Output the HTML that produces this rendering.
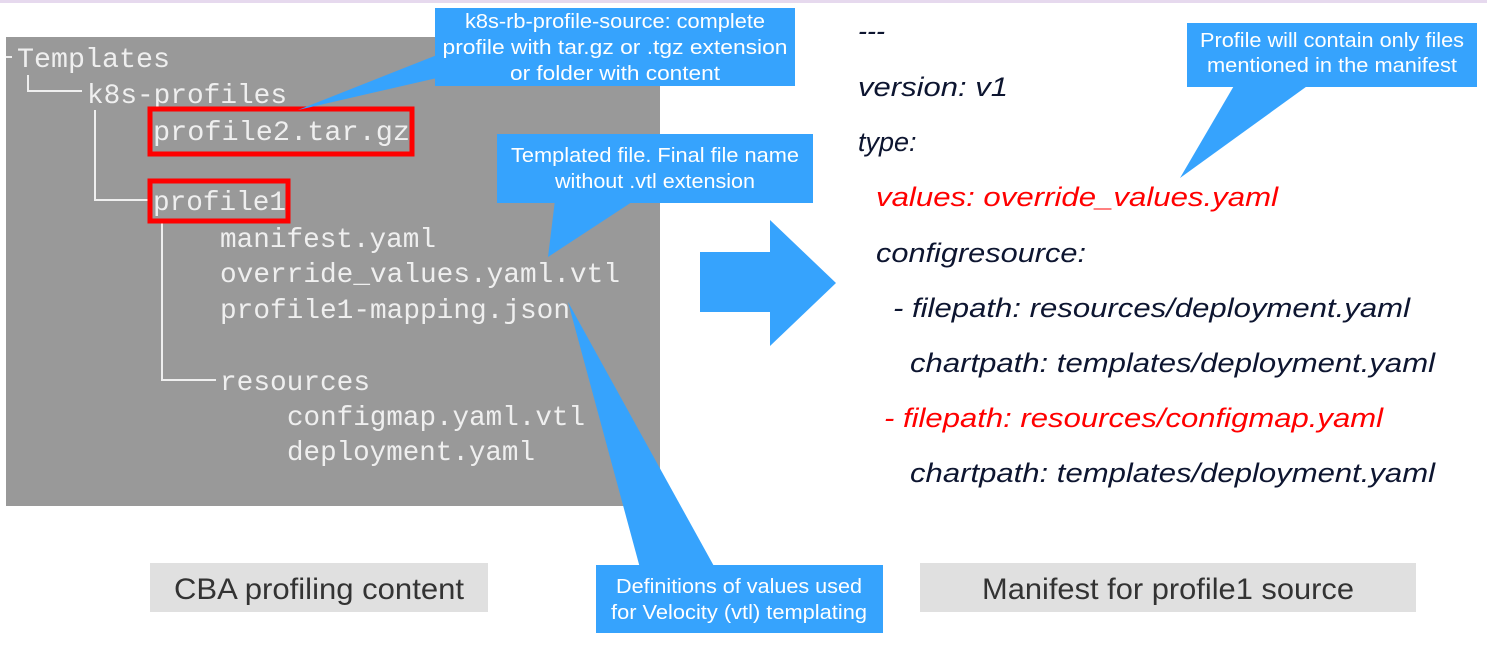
<!DOCTYPE html>
<html><head><meta charset="utf-8"><style>
html,body{margin:0;padding:0;background:#fff;}
svg{display:block;}
.m{font-family:"Liberation Mono",monospace;font-size:28px;fill:#efefef;}
.r{font-family:"Liberation Sans",sans-serif;font-style:italic;font-size:27px;fill:#0d1530;}
.red{fill:#f00;}
.c{font-family:"Liberation Sans",sans-serif;font-size:20px;fill:#fff;text-anchor:middle;}
.l{font-family:"Liberation Sans",sans-serif;font-size:30px;fill:#333;text-anchor:middle;}
</style></head><body>
<svg width="1487" height="647" xmlns="http://www.w3.org/2000/svg">
<rect x="0" y="0" width="1487" height="3" fill="#e6d9ee"/>
<rect x="6" y="37" width="654" height="469" fill="#999"/>
<g stroke="#efefef" stroke-width="2" fill="none">
<path d="M6 57 H12"/>
<path d="M28 75 V91 H82"/>
<path d="M95 110 V200 H150"/>
<path d="M162 220 V380 H216"/>
</g>
<g lengthAdjust="spacingAndGlyphs">
<text class="m" x="17" y="67" textLength="153" lengthAdjust="spacingAndGlyphs">Templates</text>
<text class="m" x="87" y="103" textLength="200" lengthAdjust="spacingAndGlyphs">k8s-profiles</text>
<text class="m" x="153" y="140" textLength="257" lengthAdjust="spacingAndGlyphs">profile2.tar.gz</text>
<text class="m" x="153" y="210" textLength="133" lengthAdjust="spacingAndGlyphs">profile1</text>
<text class="m" x="220" y="247" textLength="216" lengthAdjust="spacingAndGlyphs">manifest.yaml</text>
<text class="m" x="220" y="282" textLength="400" lengthAdjust="spacingAndGlyphs">override_values.yaml.vtl</text>
<text class="m" x="220" y="318" textLength="350" lengthAdjust="spacingAndGlyphs">profile1-mapping.json</text>
<text class="m" x="220" y="390" textLength="150" lengthAdjust="spacingAndGlyphs">resources</text>
<text class="m" x="287" y="425" textLength="298" lengthAdjust="spacingAndGlyphs">configmap.yaml.vtl</text>
<text class="m" x="287" y="460" textLength="248" lengthAdjust="spacingAndGlyphs">deployment.yaml</text>
</g>
<rect x="150" y="109" width="262" height="45" fill="none" stroke="#f00" stroke-width="5"/>
<rect x="150" y="181" width="138" height="40" fill="none" stroke="#f00" stroke-width="5"/>
<g fill="#36a3fd">
<rect x="435" y="8" width="360" height="78"/>
<polygon points="437,55 437,78 298,110"/>
<rect x="497" y="134" width="316" height="69"/>
<polygon points="555,200 635,200 548,257"/>
<rect x="596" y="565" width="287" height="68"/>
<polygon points="640,568 715,568 568,302"/>
<rect x="1187" y="23" width="290" height="64"/>
<polygon points="1235,84 1310,84 1180,178"/>
<polygon points="700,252 770,252 770,220 836,283 770,346 770,312 700,312"/>
</g>
<text class="c" x="615" y="28" textLength="300" lengthAdjust="spacingAndGlyphs">k8s-rb-profile-source: complete</text>
<text class="c" x="615" y="54" textLength="345" lengthAdjust="spacingAndGlyphs">profile with tar.gz or .tgz extension</text>
<text class="c" x="615" y="80" textLength="210" lengthAdjust="spacingAndGlyphs">or folder with content</text>
<text class="c" x="655" y="162" textLength="288" lengthAdjust="spacingAndGlyphs">Templated file. Final file name</text>
<text class="c" x="655" y="188" textLength="200" lengthAdjust="spacingAndGlyphs">without .vtl extension</text>
<text class="c" x="739" y="593" textLength="246" lengthAdjust="spacingAndGlyphs">Definitions of values used</text>
<text class="c" x="739" y="619" textLength="256" lengthAdjust="spacingAndGlyphs">for Velocity (vtl) templating</text>
<text class="c" x="1332" y="47" textLength="264" lengthAdjust="spacingAndGlyphs">Profile will contain only files</text>
<text class="c" x="1332" y="72" textLength="250" lengthAdjust="spacingAndGlyphs">mentioned in the manifest</text>
<text class="r" x="858" y="40">---</text>
<text class="r" x="858" y="96" textLength="150" lengthAdjust="spacingAndGlyphs">version: v1</text>
<text class="r" x="858" y="151">type:</text>
<text class="r red" x="876" y="206" textLength="402" lengthAdjust="spacingAndGlyphs">values: override_values.yaml</text>
<text class="r" x="876" y="262" textLength="210" lengthAdjust="spacingAndGlyphs">configresource:</text>
<text class="r" x="893" y="317" textLength="517" lengthAdjust="spacingAndGlyphs">- filepath: resources/deployment.yaml</text>
<text class="r" x="910" y="372" textLength="525" lengthAdjust="spacingAndGlyphs">chartpath: templates/deployment.yaml</text>
<text class="r red" x="884" y="427" textLength="499" lengthAdjust="spacingAndGlyphs">- filepath: resources/configmap.yaml</text>
<text class="r" x="910" y="482" textLength="525" lengthAdjust="spacingAndGlyphs">chartpath: templates/deployment.yaml</text>
<rect x="150" y="563" width="338" height="49" fill="#e0e0e0"/>
<text class="l" x="319" y="599" textLength="290" lengthAdjust="spacingAndGlyphs">CBA profiling content</text>
<rect x="920" y="563" width="496" height="49" fill="#e0e0e0"/>
<text class="l" x="1168" y="599" textLength="372" lengthAdjust="spacingAndGlyphs">Manifest for profile1 source</text>
</svg>
</body></html>
